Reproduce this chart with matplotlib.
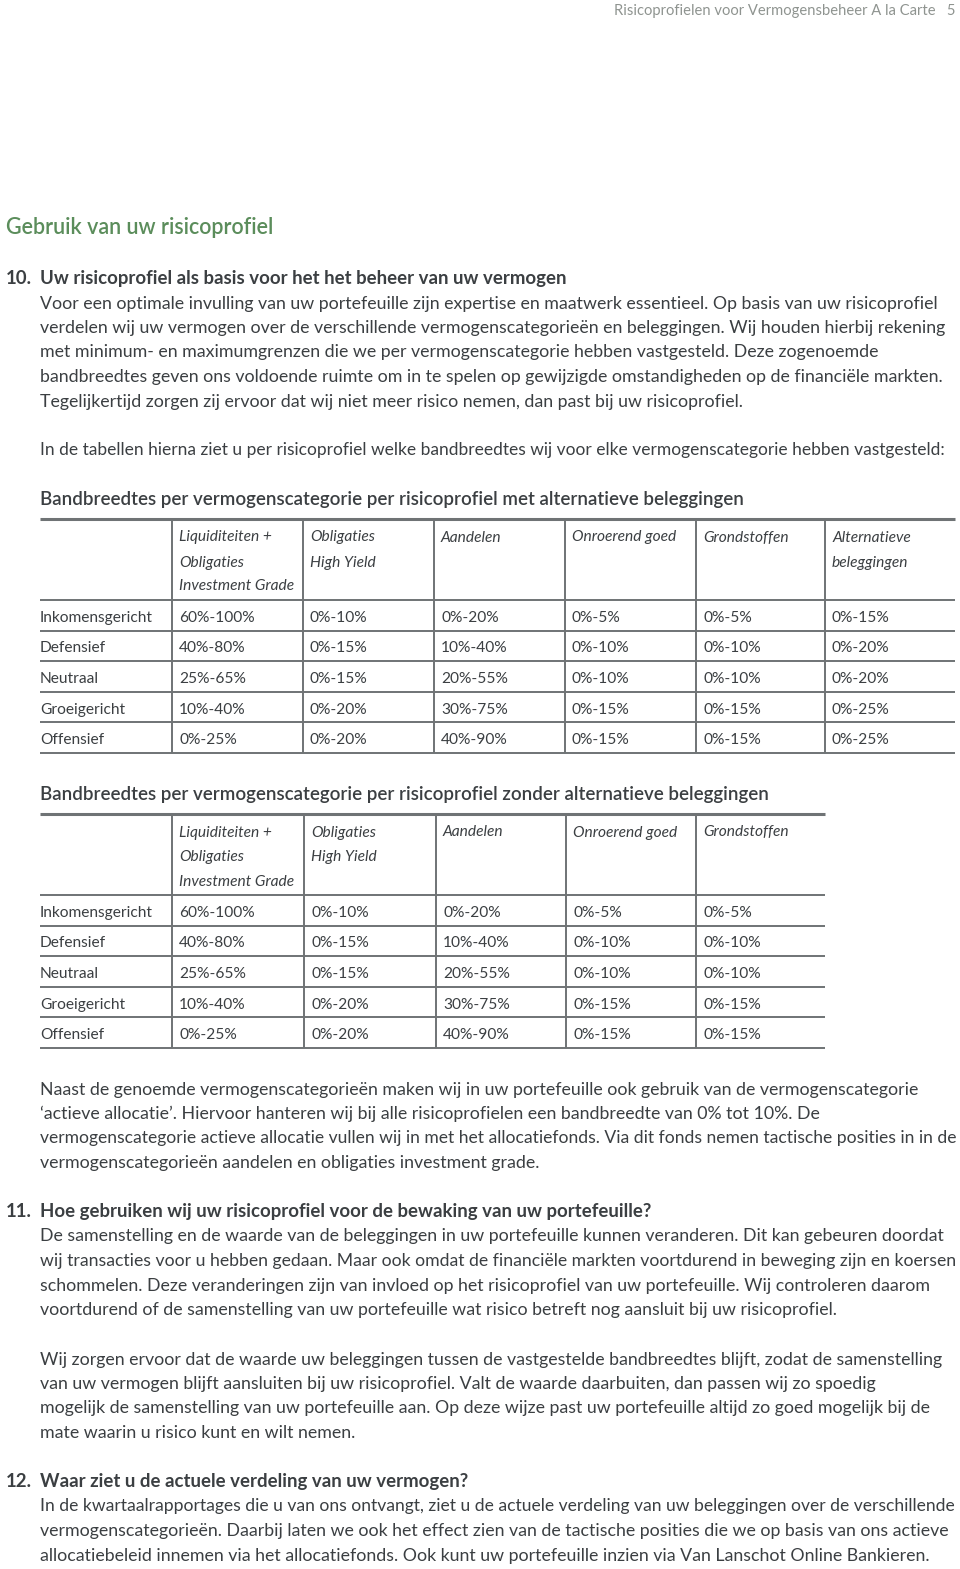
import matplotlib
matplotlib.use("Agg")
import matplotlib.pyplot as plt

plt.rcParams['font.family'] = ['Lato', 'DejaVu Sans']

# ---------------- data ----------------
profiles = ["Inkomensgericht", "Defensief", "Neutraal", "Groeigericht", "Offensief"]

cols_with_alt = [
    ["Liquiditeiten +", "Obligaties", "Investment Grade"],
    ["Obligaties", "High Yield"],
    ["Aandelen"],
    ["Onroerend goed"],
    ["Grondstoffen"],
    ["Alternatieve", "beleggingen"],
]
liq_ig = ["60%-100%", "40%-80%", "25%-65%", "10%-40%", "0%-25%"]
obl_hy = ["0%-10%", "0%-15%", "0%-15%", "0%-20%", "0%-20%"]
aandelen = ["0%-20%", "10%-40%", "20%-55%", "30%-75%", "40%-90%"]
onroerend = ["0%-5%", "0%-10%", "0%-10%", "0%-15%", "0%-15%"]
grondstoffen = ["0%-5%", "0%-10%", "0%-10%", "0%-15%", "0%-15%"]
alternatief = ["0%-15%", "0%-20%", "0%-20%", "0%-25%", "0%-25%"]

table_with_alt = [liq_ig, obl_hy, aandelen, onroerend, grondstoffen, alternatief]
cols_without_alt = cols_with_alt[:5]
table_without_alt = [liq_ig, obl_hy, aandelen, onroerend, grondstoffen]

header_text = "Risicoprofielen voor Vermogensbeheer A la Carte   5"
page_title = "Gebruik van uw risicoprofiel"

sec10_title = "Uw risicoprofiel als basis voor het het beheer van uw vermogen"
sec10_body = [
    "Voor een optimale invulling van uw portefeuille zijn expertise en maatwerk essentieel. Op basis van uw risicoprofiel",
    "verdelen wij uw vermogen over de verschillende vermogenscategorieën en beleggingen. Wij houden hierbij rekening",
    "met minimum- en maximumgrenzen die we per vermogenscategorie hebben vastgesteld. Deze zogenoemde",
    "bandbreedtes geven ons voldoende ruimte om in te spelen op gewijzigde omstandigheden op de financiële markten.",
    "Tegelijkertijd zorgen zij ervoor dat wij niet meer risico nemen, dan past bij uw risicoprofiel.",
]
intro_tables = "In de tabellen hierna ziet u per risicoprofiel welke bandbreedtes wij voor elke vermogenscategorie hebben vastgesteld:"
table1_title = "Bandbreedtes per vermogenscategorie per risicoprofiel met alternatieve beleggingen"
table2_title = "Bandbreedtes per vermogenscategorie per risicoprofiel zonder alternatieve beleggingen"
after_tables = [
    "Naast de genoemde vermogenscategorieën maken wij in uw portefeuille ook gebruik van de vermogenscategorie",
    "‘actieve allocatie’. Hiervoor hanteren wij bij alle risicoprofielen een bandbreedte van 0% tot 10%. De",
    "vermogenscategorie actieve allocatie vullen wij in met het allocatiefonds. Via dit fonds nemen tactische posities in in de",
    "vermogenscategorieën aandelen en obligaties investment grade.",
]
sec11_title = "Hoe gebruiken wij uw risicoprofiel voor de bewaking van uw portefeuille?"
sec11_body1 = [
    "De samenstelling en de waarde van de beleggingen in uw portefeuille kunnen veranderen. Dit kan gebeuren doordat",
    "wij transacties voor u hebben gedaan. Maar ook omdat de financiële markten voortdurend in beweging zijn en koersen",
    "schommelen. Deze veranderingen zijn van invloed op het risicoprofiel van uw portefeuille. Wij controleren daarom",
    "voortdurend of de samenstelling van uw portefeuille wat risico betreft nog aansluit bij uw risicoprofiel.",
]
sec11_body2 = [
    "Wij zorgen ervoor dat de waarde uw beleggingen tussen de vastgestelde bandbreedtes blijft, zodat de samenstelling",
    "van uw vermogen blijft aansluiten bij uw risicoprofiel. Valt de waarde daarbuiten, dan passen wij zo spoedig",
    "mogelijk de samenstelling van uw portefeuille aan. Op deze wijze past uw portefeuille altijd zo goed mogelijk bij de",
    "mate waarin u risico kunt en wilt nemen.",
]
sec12_title = "Waar ziet u de actuele verdeling van uw vermogen?"
sec12_body = [
    "In de kwartaalrapportages die u van ons ontvangt, ziet u de actuele verdeling van uw beleggingen over de verschillende",
    "vermogenscategorieën. Daarbij laten we ook het effect zien van de tactische posities die we op basis van ons actieve",
    "allocatiebeleid innemen via het allocatiefonds. Ook kunt uw portefeuille inzien via Van Lanschot Online Bankieren.",
]

# ---------------- style ----------------
TXT = "#3b3f42"
GREEN = "#5b8d5b"
LINE = "#6f7375"
BODY_FS = 12.8
HEAD_FS = 13.4
TBL_FS = 11.2
LINE_H = 24.5
DY = 1.0
RIGHT_LIMIT = 954

fig = plt.figure(figsize=(9.60, 15.69), dpi=100)
ax = fig.add_axes([0, 0, 1, 1])
ax.set_xlim(0, 960)
ax.set_ylim(1569, 0)
ax.axis("off")
renderer = fig.canvas.get_renderer()


def txt(x, y, s, fit=False, **kw):
    kw.setdefault("color", TXT)
    kw.setdefault("fontsize", BODY_FS)
    kw.setdefault("va", "center_baseline")
    t = ax.text(x, y + DY, s, **kw)
    if fit:
        bb = t.get_window_extent(renderer)
        if bb.x1 > RIGHT_LIMIT:
            t.set_fontsize(kw["fontsize"] * (RIGHT_LIMIT - bb.x0) / bb.width)
    return t


def para(x, y0, lines, **kw):
    for i, s in enumerate(lines):
        txt(x, y0 + i * LINE_H, s, fit=True, **kw)


def table(y_top, col_x, right, headers, values):
    hdr_y = [y_top + 16, y_top + 41, y_top + 65]
    for cx, hdr in zip(col_x, headers):
        for j, s in enumerate(hdr):
            txt(cx + 7, hdr_y[j], s, style="italic", fontsize=TBL_FS)
    hdr_bottom = y_top + 81
    row_h = 30.6
    bottoms = [hdr_bottom + (i + 1) * row_h for i in range(len(profiles))]
    for i, p in enumerate(profiles):
        yc = hdr_bottom + (i + 0.5) * row_h
        txt(40, yc, p, fontsize=TBL_FS)
        for cx, col in zip(col_x, values):
            txt(cx + 7, yc, col[i], fontsize=TBL_FS)
    ax.plot([40, right], [y_top, y_top], color=LINE, lw=2.2, solid_capstyle="butt")
    ax.plot([40, right], [hdr_bottom, hdr_bottom], color=LINE, lw=1.4, solid_capstyle="butt")
    for b in bottoms:
        ax.plot([40, right], [b, b], color=LINE, lw=1.4, solid_capstyle="butt")
    for cx in col_x:
        ax.plot([cx, cx], [y_top, bottoms[-1]], color=LINE, lw=1.4, solid_capstyle="butt")


# header
txt(955, 9, header_text, ha="right", color="#8f9490", fontsize=10.6)
txt(6, 225, page_title, color=GREEN, fontsize=15.5, fontweight="semibold")

txt(6, 276, "10.", fontweight="bold", fontsize=HEAD_FS)
txt(40, 276, sec10_title, fontweight="bold", fontsize=HEAD_FS)
para(40, 301, sec10_body)
txt(40, 448, intro_tables, fontsize=12.5)

txt(40, 497, table1_title, fontweight="semibold", fontsize=13.5)
table(519, [172, 303, 434, 565, 696, 825], 955, cols_with_alt, table_with_alt)

txt(40, 792, table2_title, fontweight="semibold", fontsize=13.5)
table(814, [172, 304, 436, 566, 696], 825, cols_without_alt, table_without_alt)

para(40, 1087, after_tables)

txt(6, 1209, "11.", fontweight="bold", fontsize=HEAD_FS)
txt(40, 1209, sec11_title, fontweight="bold", fontsize=HEAD_FS)
para(40, 1234, sec11_body1)
para(40, 1357, sec11_body2)

txt(6, 1479, "12.", fontweight="bold", fontsize=HEAD_FS)
txt(40, 1479, sec12_title, fontweight="bold", fontsize=HEAD_FS)
para(40, 1504, sec12_body)

fig.savefig("out.png", dpi=100, facecolor="white")
